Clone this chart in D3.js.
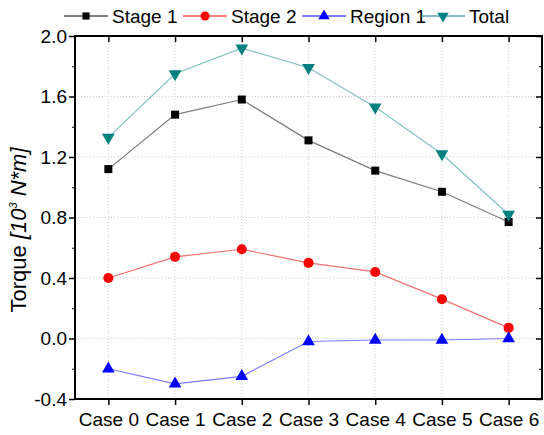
<!DOCTYPE html>
<html>
<head>
<meta charset="utf-8">
<script src="https://cdn.jsdelivr.net/npm/d3@7"></script>
<style>
  body { margin: 0; background: #fff; }
  text { font-family: "Liberation Sans", Arial, sans-serif; }
</style>
</head>
<body>
<script>
// categories and values
var cases = ["Case 0", "Case 1", "Case 2", "Case 3", "Case 4", "Case 5", "Case 6"];
var stage1 = [1.12, 1.48, 1.58, 1.31, 1.11, 0.97, 0.77];
var stage2 = [0.40, 0.54, 0.59, 0.50, 0.44, 0.26, 0.07];
var region1 = [-0.20, -0.30, -0.25, -0.02, -0.01, -0.01, 0.00];
var total = [1.33, 1.75, 1.92, 1.79, 1.53, 1.22, 0.82];
var yTicks = [-0.4, 0.0, 0.4, 0.8, 1.2, 1.6, 2.0];
var yMinor = [-0.2, 0.2, 0.6, 1.0, 1.4, 1.8];

var width = 544, height = 435;
// plot box (window.top is taken, so use other names)
var pLeft = 75, pRight = 542, pTop = 36, pBottom = 399;

var svg = d3.select("body").append("svg")
    .attr("width", width)
    .attr("height", height);

var x = d3.scalePoint().domain(cases).range([pLeft, pRight]).padding(0.5);
var y = d3.scaleLinear().domain([-0.4, 2.0]).range([pBottom, pTop]);

// dotted grid
var grid = svg.append("g").attr("stroke", "#d0d0d0").attr("stroke-dasharray", "1,2");
yTicks.slice(1, -1).forEach(function(v) {
  grid.append("line").attr("x1", pLeft).attr("x2", pRight).attr("y1", y(v)).attr("y2", y(v));
});
cases.forEach(function(c) {
  grid.append("line").attr("x1", x(c)).attr("x2", x(c)).attr("y1", pTop).attr("y2", pBottom);
});

// series
var series = [
  { name: "Stage 1", values: stage1, line: "#7a7a7a", fill: "#000000", shape: d3.symbolSquare, size: 64, rot: 0 },
  { name: "Stage 2", values: stage2, line: "#f07070", fill: "#ff0000", shape: d3.symbolCircle, size: 80, rot: 0 },
  { name: "Region 1", values: region1, line: "#7a7aff", fill: "#0000ff", shape: d3.symbolTriangle, size: 70, rot: 0 },
  { name: "Total", values: total, line: "#80c4c4", fill: "#008080", shape: d3.symbolTriangle, size: 70, rot: 180 }
];

var line = d3.line()
  .x(function(d, i) { return x(cases[i]); })
  .y(function(d) { return y(d); });

series.forEach(function(s) {
  svg.append("path")
    .attr("d", line(s.values))
    .attr("fill", "none")
    .attr("stroke", s.line)
    .attr("stroke-width", 1.2);
  svg.append("g").selectAll("path")
    .data(s.values)
    .enter()
    .append("path")
    .attr("d", d3.symbol().type(s.shape).size(s.size))
    .attr("fill", s.fill)
    .attr("transform", function(d, i) {
      return "translate(" + x(cases[i]) + "," + y(d) + ") rotate(" + s.rot + ")";
    });
});

// frame
svg.append("rect")
  .attr("x", pLeft).attr("y", pTop)
  .attr("width", pRight - pLeft).attr("height", pBottom - pTop)
  .attr("fill", "none").attr("stroke", "#000").attr("stroke-width", 2);

// axes
var fmt = d3.format(".1f");
var yAxis = d3.axisLeft(y).tickValues(yTicks).tickSize(6).tickSizeOuter(0)
  .tickFormat(function(d) { return fmt(d).replace("\u2212", "-"); });
var gy = svg.append("g").attr("transform", "translate(" + pLeft + ",0)").call(yAxis);
gy.select(".domain").remove();
gy.selectAll("text").attr("font-size", 19).attr("fill", "#000").attr("x", -8);
gy.selectAll("line").attr("stroke-width", 1.5);

var gyMinor = svg.append("g").attr("transform", "translate(" + pLeft + ",0)")
  .call(d3.axisLeft(y).tickValues(yMinor).tickSize(3).tickFormat(""));
gyMinor.select(".domain").remove();

var gyr = svg.append("g").attr("transform", "translate(" + pRight + ",0)")
  .call(d3.axisRight(y).tickValues(yTicks).tickSize(-6).tickFormat(""));
gyr.select(".domain").remove();
gyr.selectAll("line").attr("stroke-width", 1.5);
var gyr2 = svg.append("g").attr("transform", "translate(" + pRight + ",0)")
  .call(d3.axisRight(y).tickValues(yMinor).tickSize(-3).tickFormat(""));
gyr2.select(".domain").remove();

var gx = svg.append("g").attr("transform", "translate(0," + pBottom + ")")
  .call(d3.axisBottom(x).tickSize(6).tickSizeOuter(0));
gx.select(".domain").remove();
gx.selectAll("text").attr("font-size", 19).attr("fill", "#000").attr("dy", "0.95em");
gx.selectAll("line").attr("stroke-width", 1.5);

var gxt = svg.append("g").attr("transform", "translate(0," + pTop + ")")
  .call(d3.axisTop(x).tickSize(-6).tickFormat(""));
gxt.select(".domain").remove();
gxt.selectAll("line").attr("stroke-width", 1.5);

// y title
var title = svg.append("text")
  .attr("transform", "translate(26," + 230 + ") rotate(-90)")
  .attr("text-anchor", "middle")
  .attr("font-size", 22)
  .attr("fill", "#000");
title.append("tspan").text("Torque ");
title.append("tspan").attr("font-style", "italic").text("[10");
title.append("tspan").attr("font-style", "italic").attr("font-size", 11).attr("dy", -9).text("3");
title.append("tspan").attr("font-style", "italic").attr("dy", 9).text(" N*m]");

// legend
var legendX = [64, 183, 302, 421];
var legend = svg.append("g");
series.forEach(function(s, i) {
  var g = legend.append("g").attr("transform", "translate(" + legendX[i] + ",16)");
  g.append("line").attr("x1", 0).attr("x2", 44).attr("y1", 0).attr("y2", 0)
    .attr("stroke", s.fill).attr("stroke-width", 1);
  g.append("path")
    .attr("d", d3.symbol().type(s.shape).size(s.size * 0.8))
    .attr("fill", s.fill)
    .attr("transform", "translate(22,0) rotate(" + s.rot + ")");
  g.append("text").attr("x", 48).attr("y", 7).attr("font-size", 19).attr("fill", "#000").text(s.name);
});
</script>
</body>
</html>
